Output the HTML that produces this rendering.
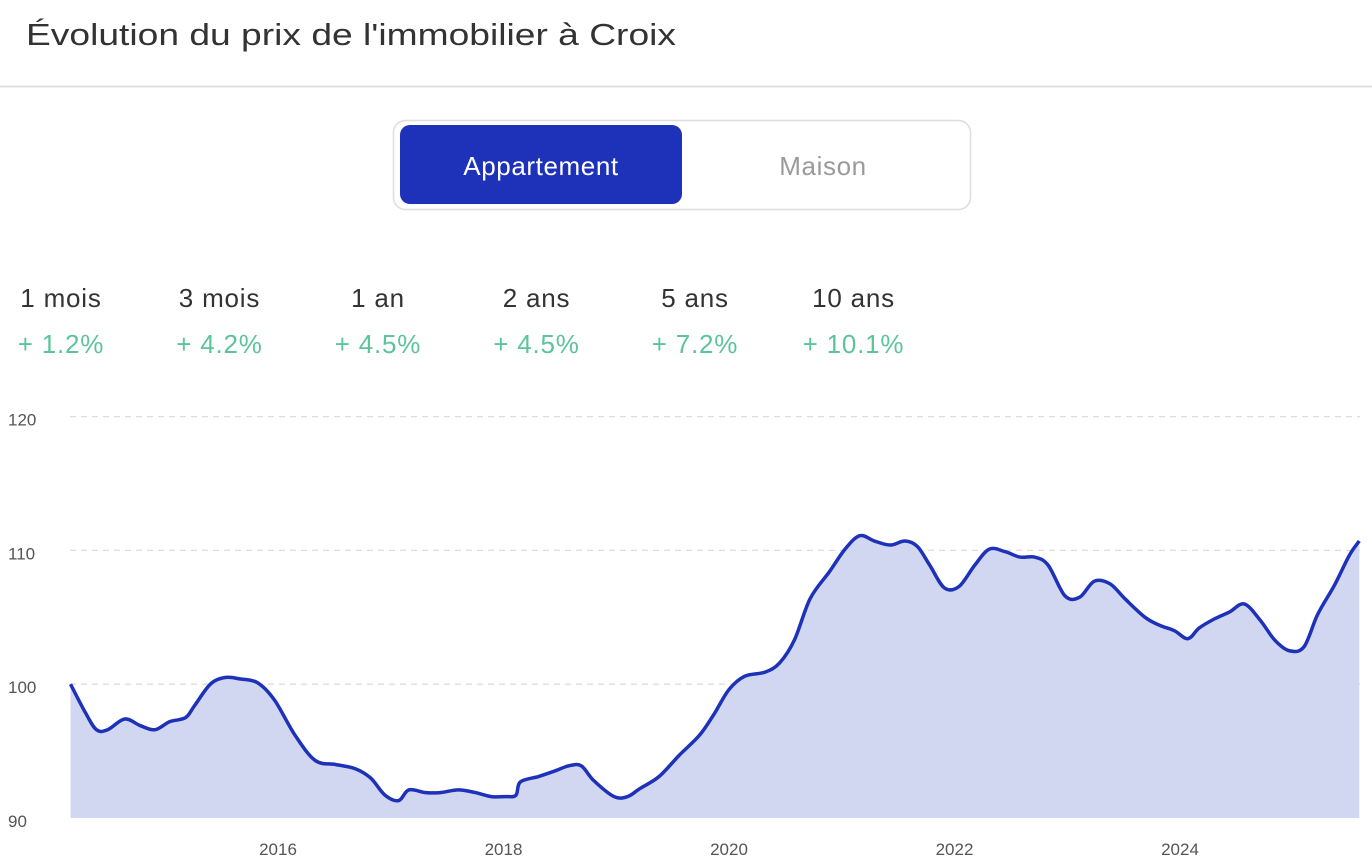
<!DOCTYPE html>
<html><head><meta charset="utf-8">
<style>
body{margin:0;background:#fff;font-family:"Liberation Sans",sans-serif;}
svg{display:block;}
</style></head>
<body>
<svg id="root" width="1372" height="868" xmlns="http://www.w3.org/2000/svg">
<text x="26" y="45" font-size="31" fill="#333" textLength="650" lengthAdjust="spacingAndGlyphs">Évolution du prix de l'immobilier à Croix</text>
<line x1="0" y1="86.5" x2="1372" y2="86.5" stroke="#e0e0e0" stroke-width="2"/>
<rect x="393.5" y="120.5" width="577" height="89" rx="12" fill="#fff" stroke="#ddd" stroke-width="1.5"/>
<g>
<rect x="400" y="125" width="282" height="79" rx="10" fill="#1d31b9"/>
<text x="541" y="175" font-size="26" fill="#fff" text-anchor="middle" letter-spacing="0.6">Appartement</text>
</g>
<g>
<text x="823" y="175" font-size="26" fill="#9a9a9a" text-anchor="middle" letter-spacing="0.6">Maison</text>
</g>
<g id="stats"></g>
<g id="chart"></g>
</svg>
<script>
const statLabels=["1 mois","3 mois","1 an","2 ans","5 ans","10 ans"];
const statValues=["+ 1.2%","+ 4.2%","+ 4.5%","+ 4.5%","+ 7.2%","+ 10.1%"];
const yTicks=[90,100,110,120];
const xTicks=[2016,2018,2020,2022,2024];
const years=[2014.16,2014.29,2014.39,2014.49,2014.64,2014.78,2014.91,2015.04,2015.18,2015.26,2015.40,2015.53,2015.66,2015.82,2015.97,2016.15,2016.33,2016.51,2016.68,2016.82,2016.95,2017.07,2017.16,2017.31,2017.44,2017.60,2017.75,2017.89,2018.02,2018.11,2018.15,2018.31,2018.45,2018.58,2018.69,2018.80,2018.98,2019.10,2019.21,2019.38,2019.56,2019.74,2019.87,2020.00,2020.14,2020.32,2020.45,2020.58,2020.72,2020.89,2021.03,2021.16,2021.29,2021.43,2021.56,2021.67,2021.78,2021.91,2022.04,2022.18,2022.31,2022.45,2022.58,2022.71,2022.83,2022.98,2023.11,2023.24,2023.38,2023.51,2023.69,2023.82,2023.95,2024.07,2024.17,2024.31,2024.44,2024.57,2024.71,2024.84,2024.97,2025.10,2025.22,2025.37,2025.50,2025.59];
const prices=[100.0,97.9,96.6,96.6,97.4,96.9,96.6,97.2,97.5,98.4,100.0,100.5,100.4,100.1,98.8,96.2,94.3,94.0,93.7,93.0,91.7,91.3,92.1,91.9,91.9,92.1,91.9,91.6,91.6,91.7,92.7,93.1,93.5,93.9,93.9,92.8,91.6,91.6,92.2,93.1,94.7,96.2,97.8,99.6,100.6,100.9,101.6,103.3,106.4,108.4,110.1,111.1,110.7,110.4,110.7,110.3,108.9,107.2,107.3,108.9,110.1,109.9,109.5,109.5,108.9,106.6,106.5,107.7,107.5,106.4,105.0,104.4,104.0,103.4,104.2,104.9,105.4,106.0,104.8,103.3,102.5,102.8,105.2,107.4,109.6,110.7];

const NS="http://www.w3.org/2000/svg";
function mk(tag,attrs,parent){const e=document.createElementNS(NS,tag);for(const k in attrs)e.setAttribute(k,attrs[k]);parent.appendChild(e);return e;}
const stats=document.getElementById('stats');
statLabels.forEach((l,i)=>{
  const cx=61+i*158.5;
  const g=mk('g',{},stats);
  
  
  const t1=mk('text',{x:cx,y:307,'font-size':26,fill:'#333','text-anchor':'middle','letter-spacing':0.8},g);t1.textContent=l;
  const t2=mk('text',{x:cx,y:353,'font-size':26,fill:'#5cc49a','text-anchor':'middle','letter-spacing':0.8},g);t2.textContent=statValues[i];
});
const chart=document.getElementById('chart');
const X0=70,X1=1360;
const xs=y=>278+(y-2016)*112.75;
const ys=v=>818-(v-90)*13.38;
yTicks.forEach(v=>{
  if(v>90){const l=mk('line',{x1:X0,x2:X1,y1:ys(v),y2:ys(v),stroke:'#ddd','stroke-width':1.3,'stroke-dasharray':'6 5'},chart);
  
  }
  const t=mk('text',{x:8,y:ys(v)+9,'font-size':17,fill:'#555'},chart);t.textContent=v;
  
  
});
xTicks.forEach(y=>{
  const t=mk('text',{x:xs(y),y:855,'font-size':17,fill:'#555','text-anchor':'middle'},chart);t.textContent=y;
  
  
});
const pts=years.map((y,i)=>[xs(y),ys(prices[i])]);
let d='M'+pts[0][0]+','+pts[0][1];
for(let i=0;i<pts.length-1;i++){
  const p0=pts[Math.max(0,i-1)],p1=pts[i],p2=pts[i+1],p3=pts[Math.min(pts.length-1,i+2)];
  const c1=[p1[0]+(p2[0]-p0[0])/6,p1[1]+(p2[1]-p0[1])/6];
  const c2=[p2[0]-(p3[0]-p1[0])/6,p2[1]-(p3[1]-p1[1])/6];
  d+=' C'+c1+' '+c2+' '+p2;
}
const area=mk('path',{d:d+' L'+pts[pts.length-1][0]+','+ys(90)+' L'+pts[0][0]+','+ys(90)+'Z',fill:'#d2d7f1'},chart);


const line=mk('path',{d:d,fill:'none',stroke:'#1d31b9','stroke-width':3.5,'stroke-linejoin':'round'},chart);


</script>
</body></html>
